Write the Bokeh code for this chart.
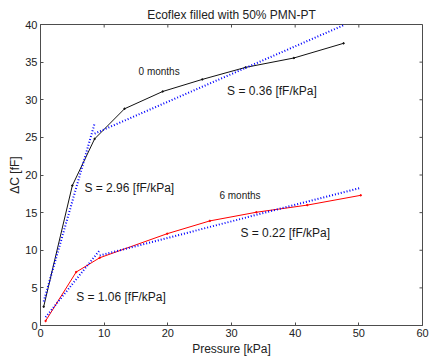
from bokeh.plotting import figure
from bokeh.models import Range1d, FixedTicker
from bokeh.core.properties import value
from bokeh.embed import file_html
from bokeh.resources import INLINE

# 0 months data
p0_x = [0.5, 5.0, 8.5, 13.2, 19.2, 25.4, 32.2, 39.8, 47.6]
p0_y = [2.5, 18.6, 24.8, 28.8, 31.1, 32.7, 34.3, 35.55, 37.5]
# 6 months data
p6_x = [0.8, 5.6, 9.3, 19.9, 26.6, 33.9, 41.9, 50.3]
p6_y = [0.6, 7.1, 9.0, 12.2, 13.9, 15.05, 16.0, 17.3]

# linear fits (endpoints) and sensitivities
fit0a_x = [0.5, 8.5]
fit0a_y = [3.2, 26.85]
fit0b_x = [8.5, 47.6]
fit0b_y = [25.5, 39.9]
fit6a_x = [0.8, 9.3]
fit6a_y = [1.1, 10.0]
fit6b_x = [9.3, 50.3]
fit6b_y = [9.3, 18.3]
slopes = ["2.96", "0.36", "1.06", "0.22"]

x_ticks = [0, 10, 20, 30, 40, 50, 60]
y_ticks = [0, 5, 10, 15, 20, 25, 30, 35, 40]
X_MAX, Y_MAX = 60, 40

FONT = "Liberation Sans"
AX = "#4d4d4d"

p = figure(width=430, height=361, x_range=Range1d(0, X_MAX), y_range=Range1d(0, Y_MAX),
           output_backend="svg", toolbar_location=None,
           min_border_left=40, min_border_right=8, min_border_top=24, min_border_bottom=36,
           background_fill_color="white", border_fill_color="white")
p.grid.visible = False
p.outline_line_color = AX
p.outline_line_width = 1

p.title.text = "Ecoflex filled with 50% PMN-PT"
p.title.align = "center"
p.title.text_font = FONT
p.title.text_font_size = "12px"
p.title.text_font_style = "normal"
p.title.text_color = "#222222"
p.title.standoff = 5

for ax in (p.xaxis[0], p.yaxis[0]):
    ax.major_tick_in = 3
    ax.major_tick_out = 0
    ax.minor_tick_in = 0
    ax.minor_tick_out = 0
    ax.axis_line_color = AX
    ax.major_tick_line_color = AX
    ax.major_label_text_font = FONT
    ax.major_label_text_font_size = "11px"
    ax.major_label_text_color = "#222222"
    ax.axis_label_text_font = FONT
    ax.axis_label_text_font_size = "12px"
    ax.axis_label_text_font_style = "normal"
    ax.axis_label_text_color = "#222222"
    ax.major_label_standoff = 3

p.xaxis[0].axis_label_standoff = 2
p.yaxis[0].axis_label_standoff = 0
p.xaxis[0].ticker = FixedTicker(ticks=x_ticks)
p.yaxis[0].ticker = FixedTicker(ticks=y_ticks)
p.xaxis[0].axis_label = "Pressure [kPa]"
p.yaxis[0].axis_label = "ΔC [fF]"

# mirrored inward ticks on top and right edges (3 px long)
tx = 3 * X_MAX / 382.0
ty = 3 * Y_MAX / 300.5
p.segment(x0=x_ticks, y0=[Y_MAX] * len(x_ticks), x1=x_ticks, y1=[Y_MAX - ty] * len(x_ticks),
          line_color=AX, line_width=1)
p.segment(x0=[X_MAX] * len(y_ticks), y0=y_ticks, x1=[X_MAX - tx] * len(y_ticks), y1=y_ticks,
          line_color=AX, line_width=1)

# data lines
p.line(p0_x, p0_y, line_color="#111111", line_width=1)
p.scatter(p0_x, p0_y, size=1.5, color="#111111")
p.line(p6_x, p6_y, line_color="#ff0000", line_width=1)
p.scatter(p6_x, p6_y, size=1.5, color="#ff0000")

# fits
for fx, fy in ((fit0a_x, fit0a_y), (fit0b_x, fit0b_y), (fit6a_x, fit6a_y), (fit6b_x, fit6b_y)):
    p.line(fx, fy, line_color="#0000ff", line_width=2, line_dash="1 2")

def lab(x, y, t, size):
    p.text(x=[x], y=[y], text=[t], text_font=value(FONT), text_font_size=size,
           text_color="#1a1a1a", text_baseline="middle", text_align="left")

lab(15.4, 33.7, "0 months", "10px")
lab(28.1, 17.3, "6 months", "10px")
lab(29.3, 31.2, "S = %s [fF/kPa]" % slopes[1], "12px")
lab(6.9, 18.3, "S = %s [fF/kPa]" % slopes[0], "12px")
lab(31.4, 12.3, "S = %s [fF/kPa]" % slopes[3], "12px")
lab(5.6, 3.77, "S = %s [fF/kPa]" % slopes[2], "12px")

open("out.html", "w").write(file_html(p, INLINE))
